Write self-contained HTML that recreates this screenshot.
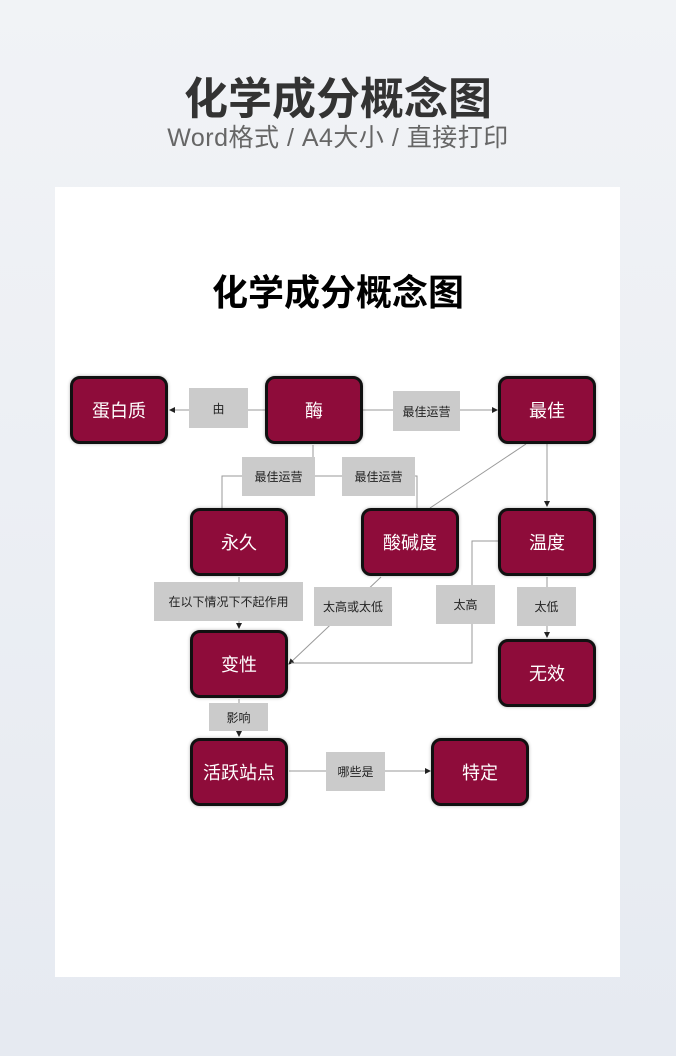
<!DOCTYPE html>
<html><head><meta charset="utf-8"><style>
body{margin:0;width:676px;height:1056px;background:linear-gradient(#f1f3f6,#e6eaf1);font-family:"Liberation Sans","Noto Sans CJK SC",sans-serif;position:relative;overflow:hidden}
.t{position:absolute;left:0;width:676px;text-align:center}
.card{position:absolute;left:55px;top:187px;width:565px;height:790px;background:#fff}
.n{position:absolute;width:92px;height:62px;background:#8e0c3a;border:3px solid #111;border-radius:10px;color:#fff;font-size:18px;display:flex;align-items:center;justify-content:center;box-shadow:0 0 3px rgba(0,0,0,.3)}
.l{position:absolute;background:#cbcbcb;color:#222;font-size:12px;display:flex;align-items:center;justify-content:center}
svg{position:absolute;left:0;top:0}
</style></head><body>
<div class="t" style="top:63px;font-size:44px;font-weight:bold;color:#333">化学成分概念图</div>
<div class="t" style="top:118px;font-size:25px;color:#666;letter-spacing:0.5px">Word格式 / A4大小 / 直接打印</div>
<div class="card"></div>
<div class="t" style="top:264px;font-size:36px;font-weight:bold;color:#000">化学成分概念图</div>
<svg width="676" height="1056"><defs><marker id="a" markerWidth="6" markerHeight="6" refX="5" refY="3" orient="auto"><path d="M0,0L6,3L0,6z" fill="#222"/></marker></defs>
<g stroke="#999" fill="none" stroke-width="1">
<line x1="265" y1="410" x2="170" y2="410" marker-end="url(#a)"/>
<line x1="362" y1="410" x2="497" y2="410" marker-end="url(#a)"/>
<polyline points="313,445 313,476 222,476 222,508"/>
<polyline points="313,476 417,476 417,508"/>
<line x1="526" y1="444" x2="430" y2="508"/>
<line x1="547" y1="444" x2="547" y2="506" marker-end="url(#a)"/>
<line x1="239" y1="577" x2="239" y2="628" marker-end="url(#a)"/>
<line x1="381" y1="577" x2="289" y2="664" marker-end="url(#a)"/>
<polyline points="498,541 472,541 472,663 291,663"/>
<line x1="547" y1="577" x2="547" y2="637" marker-end="url(#a)"/>
<line x1="239" y1="699" x2="239" y2="736" marker-end="url(#a)"/>
<line x1="289" y1="771" x2="430" y2="771" marker-end="url(#a)"/>
</g></svg>
<div class="l" style="left:189px;top:388px;width:59px;height:40px">由</div>
<div class="l" style="left:393px;top:391px;width:67px;height:40px">最佳运营</div>
<div class="l" style="left:242px;top:457px;width:73px;height:39px">最佳运营</div>
<div class="l" style="left:342px;top:457px;width:73px;height:39px">最佳运营</div>
<div class="l" style="left:154px;top:582px;width:149px;height:39px">在以下情况下不起作用</div>
<div class="l" style="left:314px;top:587px;width:78px;height:39px">太高或太低</div>
<div class="l" style="left:436px;top:585px;width:59px;height:39px">太高</div>
<div class="l" style="left:517px;top:587px;width:59px;height:39px">太低</div>
<div class="l" style="left:209px;top:703px;width:59px;height:28px">影响</div>
<div class="l" style="left:326px;top:752px;width:59px;height:39px">哪些是</div>
<div class="n" style="left:70px;top:376px">蛋白质</div>
<div class="n" style="left:265px;top:376px">酶</div>
<div class="n" style="left:498px;top:376px">最佳</div>
<div class="n" style="left:190px;top:508px">永久</div>
<div class="n" style="left:361px;top:508px">酸碱度</div>
<div class="n" style="left:498px;top:508px">温度</div>
<div class="n" style="left:190px;top:630px">变性</div>
<div class="n" style="left:498px;top:639px">无效</div>
<div class="n" style="left:190px;top:738px">活跃站点</div>
<div class="n" style="left:431px;top:738px">特定</div>
</body></html>
